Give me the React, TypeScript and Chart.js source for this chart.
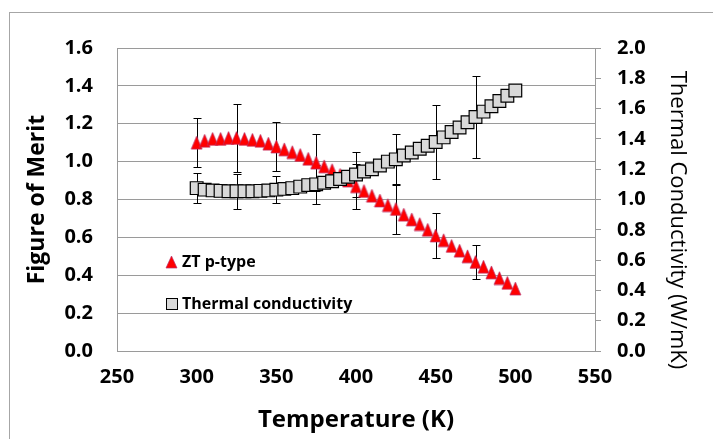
import React, { useEffect, useRef } from "react";
import { Chart, registerables } from "chart.js";

Chart.register(...registerables);

// Temperature (K)
const temperatures = [
  300, 305, 310, 315, 320, 325, 330, 335, 340, 345,
  350, 355, 360, 365, 370, 375, 380, 385, 390, 395,
  400, 405, 410, 415, 420, 425, 430, 435, 440, 445,
  450, 455, 460, 465, 470, 475, 480, 485, 490, 495, 500,
];

// ZT p-type (left axis)
const ztPType = [
  1.10, 1.11, 1.12, 1.12, 1.125, 1.125, 1.12, 1.115, 1.11, 1.095,
  1.08, 1.065, 1.05, 1.035, 1.015, 0.995, 0.975, 0.955, 0.93, 0.9,
  0.87, 0.845, 0.82, 0.795, 0.77, 0.75, 0.72, 0.695, 0.67, 0.64,
  0.61, 0.585, 0.555, 0.53, 0.5, 0.47, 0.445, 0.415, 0.385, 0.36, 0.33,
];

// Thermal conductivity W/mK (right axis)
const thermalConductivity = [
  1.075, 1.065, 1.06, 1.057, 1.055, 1.055, 1.055, 1.055, 1.057, 1.06,
  1.065, 1.07, 1.075, 1.085, 1.095, 1.1, 1.11, 1.12, 1.135, 1.15,
  1.165, 1.185, 1.2, 1.225, 1.25, 1.265, 1.29, 1.31, 1.335, 1.355,
  1.38, 1.41, 1.445, 1.475, 1.51, 1.545, 1.58, 1.615, 1.65, 1.685, 1.72,
];

// Error bar half-widths (null = no error bar)
const ztError = [
  0.13, null, null, null, null, 0.18, null, null, null, null,
  0.13, null, null, null, null, 0.15, null, null, null, null,
  0.12, null, null, null, null, 0.13, null, null, null, null,
  0.12, null, null, null, null, 0.09, null, null, null, null, null,
];
const thermalError = [
  0.1, null, null, null, null, 0.115, null, null, null, null,
  0.09, null, null, null, null, 0.13, null, null, null, null,
  0.15, null, null, null, null, 0.17, null, null, null, null,
  0.245, null, null, null, null, 0.27, null, null, null, null, null,
];

const xTickValues = [250, 300, 350, 400, 450, 500, 550];
const leftTickValues = [0, 0.2, 0.4, 0.6, 0.8, 1.0, 1.2, 1.4, 1.6];
const rightTickValues = [0, 0.2, 0.4, 0.6, 0.8, 1.0, 1.2, 1.4, 1.6, 1.8, 2.0];

const seriesNames = ["ZT p-type", "Thermal conductivity"];
const axisTitles = { x: "Temperature (K)", left: "Figure of Merit", right: "Thermal Conductivity (W/mK)" };

const FONT = "'Open Sans', 'DejaVu Sans', sans-serif";
const GRID = "#9a9a9a";

function makeTriangle(w: number, h: number) {
  const c = document.createElement("canvas");
  c.width = w + 2;
  c.height = h + 2;
  const ctx = c.getContext("2d")!;
  ctx.beginPath();
  ctx.moveTo(1 + w / 2, 1);
  ctx.lineTo(1 + w, 1 + h);
  ctx.lineTo(1, 1 + h);
  ctx.closePath();
  ctx.fillStyle = "#ff0000";
  ctx.fill();
  ctx.strokeStyle = "#b8306a";
  ctx.lineWidth = 0.7;
  ctx.stroke();
  return c;
}

const errorBarPlugin = {
  id: "errorBars",
  beforeDatasetsDraw(chart: any) {
    const ctx = chart.ctx;
    const xScale = chart.scales.x;
    const sets = [
      { values: ztPType, errs: ztError, axis: chart.scales.yL },
      { values: thermalConductivity, errs: thermalError, axis: chart.scales.yR },
    ];
    ctx.save();
    ctx.strokeStyle = "#000";
    ctx.lineWidth = 1;
    for (const s of sets) {
      for (let i = 0; i < temperatures.length; i++) {
        const e = s.errs[i];
        if (e == null) continue;
        const px = Math.round(xScale.getPixelForValue(temperatures[i])) + 0.5;
        const yTop = Math.round(s.axis.getPixelForValue(s.values[i] + e)) + 0.5;
        const yBot = Math.round(s.axis.getPixelForValue(s.values[i] - e)) + 0.5;
        ctx.beginPath();
        ctx.moveTo(px, yTop);
        ctx.lineTo(px, yBot);
        ctx.moveTo(px - 4, yTop);
        ctx.lineTo(px + 4, yTop);
        ctx.moveTo(px - 4, yBot);
        ctx.lineTo(px + 4, yBot);
        ctx.stroke();
      }
    }
    ctx.restore();
  },
};

const framePlugin = {
  id: "frame",
  beforeDraw(chart: any) {
    const ctx = chart.ctx;
    ctx.save();
    ctx.fillStyle = "#fff";
    ctx.fillRect(0, 0, chart.width, chart.height);
    ctx.strokeStyle = "#a6a6a6";
    ctx.lineWidth = 1;
    ctx.strokeRect(9.5, 12.5, chart.width + 10, chart.height + 10);
    ctx.restore();
  },
};

const textPlugin = {
  id: "insideLegendAndRightTitle",
  afterDraw(chart: any) {
    const ctx = chart.ctx;
    ctx.save();
    // legend triangle
    ctx.beginPath();
    ctx.moveTo(171.5, 256);
    ctx.lineTo(177, 268);
    ctx.lineTo(166, 268);
    ctx.closePath();
    ctx.fillStyle = "#ff0000";
    ctx.fill();
    ctx.strokeStyle = "#b8306a";
    ctx.lineWidth = 0.7;
    ctx.stroke();
    // legend square
    ctx.fillStyle = "#d9d9d9";
    ctx.fillRect(166.5, 298.5, 11, 11);
    ctx.strokeStyle = "#000";
    ctx.lineWidth = 1;
    ctx.strokeRect(166.5, 298.5, 11, 11);
    ctx.fillStyle = "#000";
    ctx.font = `bold 16px ${FONT}`;
    ctx.textBaseline = "middle";
    ctx.textAlign = "left";
    ctx.fillText(seriesNames[0], 182, 262);
    ctx.fillText(seriesNames[1], 182, 304);
    // right axis title
    ctx.translate(677, 220);
    ctx.rotate(Math.PI / 2);
    ctx.textAlign = "center";
    ctx.font = `22px ${FONT}`;
    ctx.fillText(axisTitles.right, 0, 0);
    ctx.restore();
  },
};

export default function App() {
  const canvasRef = useRef<HTMLCanvasElement | null>(null);

  useEffect(() => {
    document.body.style.margin = "0";
    const canvas = canvasRef.current;
    if (!canvas) return;
    const tri = makeTriangle(11, 13);
    const chart = new Chart(canvas, {
      type: "scatter",
      data: {
        datasets: [
          {
            label: seriesNames[0],
            data: temperatures.map((t, i) => ({ x: t, y: ztPType[i] })),
            yAxisID: "yL",
            pointStyle: tri,
            pointRadius: 7,
            pointHoverRadius: 7,
            backgroundColor: "#ff0000",
            borderColor: "#b03060",
            borderWidth: 0.6,
            showLine: false,
            order: 2,
          },
          {
            label: seriesNames[1],
            data: temperatures.map((t, i) => ({ x: t, y: thermalConductivity[i] })),
            yAxisID: "yR",
            pointStyle: "rect",
            pointRadius: 9,
            pointHoverRadius: 9,
            backgroundColor: "#d9d9d9",
            borderColor: "#000000",
            borderWidth: 1.2,
            showLine: false,
            order: 1,
          },
        ],
      },
      options: {
        animation: false,
        responsive: true,
        maintainAspectRatio: false,
        layout: { padding: { top: 48, left: 0, right: 0, bottom: 0 } },
        plugins: {
          legend: { display: false },
          tooltip: { enabled: false },
        },
        scales: {
          x: {
            type: "linear",
            position: "bottom",
            min: 250,
            max: 550,
            afterBuildTicks: (s: any) => {
              s.ticks = xTickValues.map((v) => ({ value: v }));
            },
            grid: { display: true, drawOnChartArea: false, drawTicks: false },
            border: { display: true, color: GRID, width: 1 },
            ticks: {
              padding: 14,
              color: "#000",
              font: { family: FONT, size: 20, weight: "bold" },
              callback: (v: any) => String(v),
              maxRotation: 0,
            },
            title: {
              display: true,
              text: axisTitles.x,
              color: "#000",
              font: { family: FONT, size: 24, weight: "bold" },
              padding: { top: 0, bottom: 4 },
            },
            afterFit: (s: any) => {
              s.height = 88;
            },
          },
          yL: {
            type: "linear",
            position: "left",
            min: 0,
            max: 1.6,
            afterBuildTicks: (s: any) => {
              s.ticks = leftTickValues.map((v) => ({ value: v }));
            },
            grid: { color: GRID, lineWidth: 1, drawTicks: false },
            border: { display: true, color: GRID, width: 1 },
            ticks: {
              padding: 24,
              color: "#000",
              font: { family: FONT, size: 20, weight: "bold" },
              callback: (v: any) => Number(v).toFixed(1),
            },
            title: {
              display: true,
              text: axisTitles.left,
              color: "#000",
              font: { family: FONT, size: 23, weight: "bold" },
              padding: { top: 24, bottom: 0 },
            },
            afterFit: (s: any) => {
              s.width = 117;
            },
          },
          yR: {
            type: "linear",
            position: "right",
            min: 0,
            max: 2.0,
            afterBuildTicks: (s: any) => {
              s.ticks = rightTickValues.map((v) => ({ value: v }));
            },
            grid: { color: GRID, drawOnChartArea: false, drawTicks: true, tickLength: 6 },
            border: { display: true, color: GRID, width: 1 },
            ticks: {
              padding: 16,
              color: "#000",
              font: { family: FONT, size: 20, weight: "bold" },
              callback: (v: any) => Number(v).toFixed(1),
            },
            title: { display: false },
            afterFit: (s: any) => {
              s.width = 118;
            },
          },
        },
      },
      plugins: [framePlugin, errorBarPlugin, textPlugin],
    });
    return () => chart.destroy();
  }, []);

  return (
    <div style={{ position: "relative", width: "713px", height: "439px" }}>
      <canvas ref={canvasRef} />
    </div>
  );
}
